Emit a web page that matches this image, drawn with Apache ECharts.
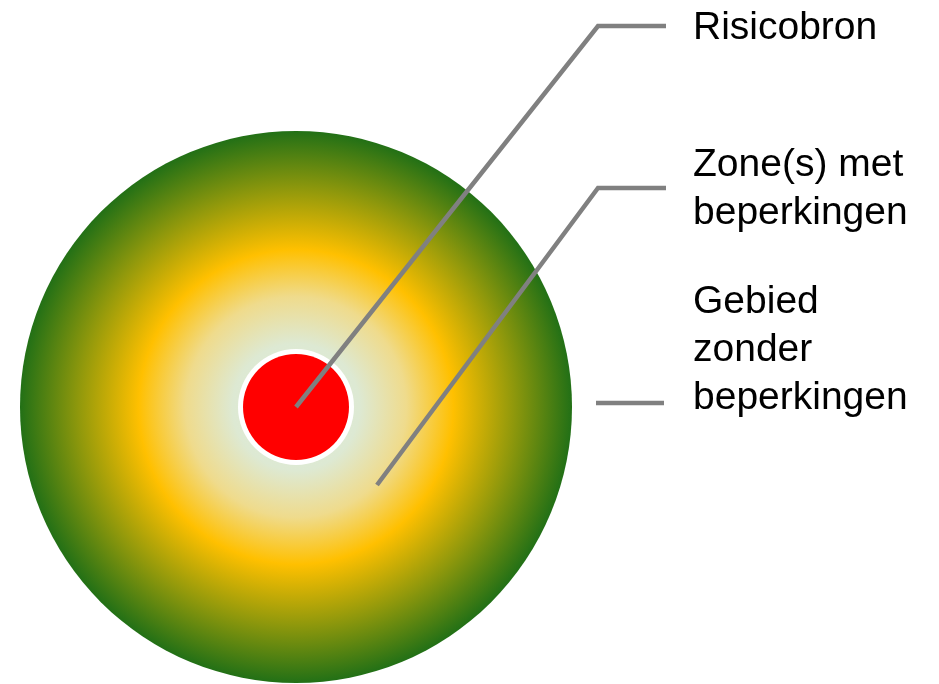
<!DOCTYPE html>
<html>
<head>
<meta charset="utf-8">
<style>html,body{margin:0;padding:0;background:#fff}#c{width:939px;height:684px}</style>
<script src="https://cdn.jsdelivr.net/npm/echarts@6/dist/echarts.min.js"></script>
</head>
<body>
<div id="c"></div>
<script>
// Diagram data (diagram units = pixels of the 939x684 canvas)
const zoneCircles = [
  // [cx, cy, radius, kind]
  [296, 407, 276, 0],   // zone gradient disc
  [296, 407, 58, 1],    // white halo of source
  [296, 407, 53, 2]     // risk source
];
const leaderRisicobron = [[296, 407], [598, 26], [666, 26]];
const leaderZone = [[377, 485], [598, 188], [666, 188]];
const leaderGebied = [[596, 403], [664, 403]];
const labelTexts = ['Risicobron', 'Zone(s) met\nbeperkingen', 'Gebied\nzonder\nbeperkingen'];

const chart = echarts.init(document.getElementById('c'), null, {renderer: 'canvas'});
const zoneGradient = new echarts.graphic.RadialGradient(0.5, 0.5, 0.5, [
  {offset: 0, color: '#e0ecd8'},
  {offset: 0.23, color: '#dde9d3'},
  {offset: 0.4, color: '#efdb8c'},
  {offset: 0.57, color: '#ffc000'},
  {offset: 0.79, color: '#8f980c'},
  {offset: 1, color: '#227016'}
]);
const fills = [zoneGradient, '#ffffff', '#ff0000'];
const lineStyle = {color: '#808080', width: 4.5, join: 'miter'};
const textStyleBase = {fontFamily: 'Liberation Sans', fontSize: 39, fill: '#000', lineHeight: 48};

chart.setOption({
  animation: false,
  grid: {left: 0, right: 0, top: 0, bottom: 0},
  xAxis: {type: 'value', min: 0, max: 939, show: false},
  yAxis: {type: 'value', min: 0, max: 684, inverse: true, show: false},
  series: [
    {
      type: 'custom', z: 1, silent: true,
      data: zoneCircles,
      renderItem: function (params, api) {
        const c = api.coord([api.value(0), api.value(1)]);
        const r = api.size([api.value(2), 0])[0];
        return {type: 'circle', shape: {cx: c[0], cy: c[1], r: r}, style: {fill: fills[api.value(3)]}};
      }
    },
    {type: 'line', z: 5, silent: true, symbol: 'none', data: leaderRisicobron, lineStyle: lineStyle},
    {type: 'line', z: 5, silent: true, symbol: 'none', data: leaderZone, lineStyle: lineStyle},
    {type: 'line', z: 5, silent: true, symbol: 'none', data: leaderGebied, lineStyle: lineStyle}
  ],
  graphic: [
    {type: 'text', left: 693, top: 4, style: Object.assign({text: labelTexts[0]}, textStyleBase)},
    {type: 'text', left: 693, top: 141, style: Object.assign({text: labelTexts[1]}, textStyleBase)},
    {type: 'text', left: 693, top: 278, style: Object.assign({text: labelTexts[2]}, textStyleBase)}
  ]
});
</script>
</body>
</html>
